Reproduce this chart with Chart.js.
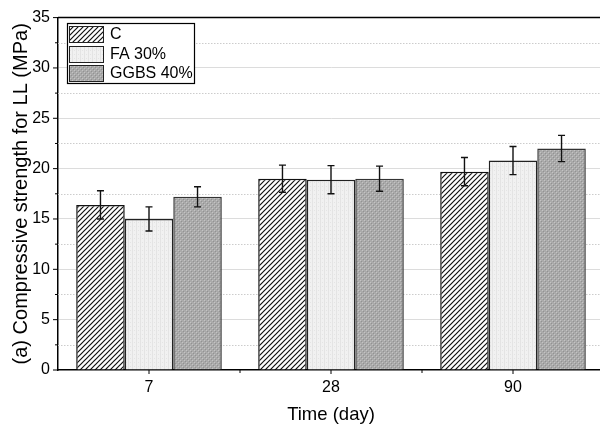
<!DOCTYPE html>
<html>
<head>
<meta charset="utf-8">
<script src="https://cdn.jsdelivr.net/npm/chart.js@4/dist/chart.umd.min.js"></script>
<style>
  html, body { margin: 0; padding: 0; background: #fff; overflow: hidden; }
  #wrap { width: 606px; height: 428px; position: relative; }
</style>
</head>
<body>
<div id="wrap"><canvas id="myChart"></canvas></div>
<script>
// 数据
var categories = ['7', '28', '90']
var seriesNames = ['C', 'FA 30%', 'GGBS 40%']
var valuesC = [16.4, 19.0, 19.7]
var valuesFA = [15.0, 18.9, 20.8]
var valuesGGBS = [17.2, 19.0, 22.0]
var errC = [1.4, 1.35, 1.4]
var errFA = [1.2, 1.4, 1.4]
var errGGBS = [1.0, 1.25, 1.3]
var yTicks = [0, 5, 10, 15, 20, 25, 30, 35]

var FONT = '"Liberation Sans", Arial, sans-serif'

/** 填充图案 */
function makePattern(size, draw) {
    var c = document.createElement('canvas')
    c.width = size
    c.height = size
    var g = c.getContext('2d')
    draw(g, size)
    return g.createPattern(c, 'repeat')
}
var hatch = makePattern(5, function (g, s) {
    g.fillStyle = '#fff'
    g.fillRect(0, 0, s, s)
    g.strokeStyle = '#111'
    g.lineWidth = 1.2
    g.beginPath()
    g.moveTo(-1, s + 1); g.lineTo(s + 1, -1)
    g.moveTo(-1, 1); g.lineTo(1, -1)
    g.moveTo(s - 1, s + 1); g.lineTo(s + 1, s - 1)
    g.stroke()
})
var lightDots = makePattern(4, function (g, s) {
    g.fillStyle = '#f1f1f1'
    g.fillRect(0, 0, s, s)
    g.fillStyle = '#e4e4e4'
    g.fillRect(0, 0, 1, 4)
    g.fillRect(2, 2, 1, 1)
})
var darkDots = makePattern(4, function (g, s) {
    g.fillStyle = '#aaaaaa'
    g.fillRect(0, 0, s, s)
    g.fillStyle = '#c4c4c4'
    g.fillRect(0, 0, 1, 1)
    g.fillRect(2, 2, 1, 1)
    g.fillStyle = '#929292'
    g.fillRect(1, 1, 1, 1)
    g.fillRect(3, 3, 1, 1)
})

var fills = [hatch, lightDots, darkDots]
var errs = [errC, errFA, errGGBS]

/** 网格、刻度、边框 */
var axisDecor = {
    id: 'axisDecor',
    beforeDatasetsDraw: function (chart) {
        var ctx = chart.ctx
        var a = chart.chartArea
        var y = chart.scales.y
        ctx.save()
        ctx.strokeStyle = '#cccccc'
        ctx.lineWidth = 1
        ctx.setLineDash([1.5, 1.5])
        for (var i = 0; i < yTicks.length - 1; i++) {
            var py = Math.round(y.getPixelForValue(yTicks[i] + 2.5)) + 0.5
            ctx.beginPath()
            ctx.moveTo(a.left, py)
            ctx.lineTo(a.right, py)
            ctx.stroke()
        }
        ctx.restore()
    },
    afterDraw: function (chart) {
        var ctx = chart.ctx
        var a = chart.chartArea
        var y = chart.scales.y
        var x = chart.scales.x
        ctx.save()
        ctx.strokeStyle = '#000'
        ctx.lineWidth = 1.5
        ctx.beginPath()
        ctx.moveTo(a.left, a.top)
        ctx.lineTo(a.right, a.top)
        ctx.stroke()
        ctx.lineWidth = 1
        ctx.beginPath()
        yTicks.forEach(function (v) {
            var py = y.getPixelForValue(v)
            ctx.moveTo(a.left - 5, py); ctx.lineTo(a.left, py)
            if (v < 35) {
                var pm = y.getPixelForValue(v + 2.5)
                ctx.moveTo(a.left - 3, pm); ctx.lineTo(a.left, pm)
            }
        })
        categories.forEach(function (c, i) {
            var px = x.getPixelForValue(i)
            ctx.moveTo(px, a.bottom); ctx.lineTo(px, a.bottom + 4)
            var half = (x.getPixelForValue(1) - x.getPixelForValue(0)) / 2
            ctx.moveTo(px + half, a.bottom); ctx.lineTo(px + half, a.bottom + 3)
        })
        ctx.stroke()
        ctx.restore()
    }
}

/** 误差线 */
var errorBars = {
    id: 'errorBars',
    afterDatasetsDraw: function (chart) {
        var ctx = chart.ctx
        var y = chart.scales.y
        ctx.save()
        ctx.strokeStyle = '#111'
        ctx.lineWidth = 1.4
        chart.data.datasets.forEach(function (ds, di) {
            var meta = chart.getDatasetMeta(di)
            meta.data.forEach(function (bar, i) {
                var v = ds.data[i]
                var e = errs[di][i]
                var top = y.getPixelForValue(v + e)
                var bot = y.getPixelForValue(v - e)
                ctx.beginPath()
                ctx.moveTo(bar.x, top); ctx.lineTo(bar.x, bot)
                ctx.moveTo(bar.x - 3.5, top); ctx.lineTo(bar.x + 3.5, top)
                ctx.moveTo(bar.x - 3.5, bot); ctx.lineTo(bar.x + 3.5, bot)
                ctx.stroke()
            })
        })
        ctx.restore()
    }
}

/** 图例 */
var boxLegend = {
    id: 'boxLegend',
    afterDraw: function (chart) {
        var ctx = chart.ctx
        ctx.save()
        ctx.fillStyle = '#fff'
        ctx.fillRect(67, 23, 127, 61)
        ctx.strokeStyle = '#000'
        ctx.lineWidth = 1.2
        ctx.strokeRect(67.5, 23.5, 127, 60)
        var rows = [26, 46, 65]
        ctx.font = '16px ' + FONT
        ctx.textBaseline = 'middle'
        chart.data.datasets.forEach(function (ds, i) {
            ctx.fillStyle = ds.backgroundColor
            ctx.fillRect(69, rows[i], 35, 16)
            ctx.strokeStyle = '#222'
            ctx.lineWidth = 1
            ctx.strokeRect(69.5, rows[i] + 0.5, 34, 16)
            ctx.fillStyle = '#000'
            ctx.fillText(ds.label, 110, rows[i] + 9)
        })
        ctx.restore()
    }
}

var ctx = document.getElementById('myChart').getContext('2d')
var myChart = new Chart(ctx, {
    type: 'bar',
    data: {
        labels: categories,
        datasets: [
            { label: seriesNames[0], data: valuesC, backgroundColor: fills[0], borderColor: '#111', borderWidth: 1.5 },
            { label: seriesNames[1], data: valuesFA, backgroundColor: fills[1], borderColor: '#222', borderWidth: 1.5 },
            { label: seriesNames[2], data: valuesGGBS, backgroundColor: fills[2], borderColor: '#333', borderWidth: 1.5 }
        ]
    },
    options: {
        responsive: true,
        maintainAspectRatio: false,
        animation: false,
        datasets: { bar: { categoryPercentage: 0.8, barPercentage: 1 } },
        layout: { padding: { top: 16, right: 2, left: 0, bottom: 0 } },
        plugins: { legend: { display: false }, tooltip: { enabled: false } },
        scales: {
            x: {
                grid: { display: false, drawTicks: false },
                border: { display: true, color: '#000', width: 1.5 },
                ticks: { color: '#000', padding: 8, maxRotation: 0, font: { family: FONT, size: 16 } },
                title: { display: true, text: 'Time (day)', color: '#000', padding: { top: 0, bottom: 2 }, font: { family: FONT, size: 18.5 } },
                afterFit: function (s) { s.height = 58 }
            },
            y: {
                min: 0,
                max: 35,
                grid: {
                    drawTicks: false,
                    color: function (c) {
                        var v = c.tick ? c.tick.value : 0
                        return (v > 0 && v < 35) ? '#dcdcdc' : 'rgba(0,0,0,0)'
                    },
                    lineWidth: 1
                },
                border: { display: true, color: '#000', width: 1.5 },
                ticks: { stepSize: 5, color: '#000', padding: 8, font: { family: FONT, size: 16 } },
                title: { display: true, text: '(a) Compressive strength for LL (MPa)', color: '#000', padding: { top: 9, bottom: 0 }, font: { family: FONT, size: 20 } },
                afterFit: function (s) { s.width = 58 }
            }
        }
    },
    plugins: [axisDecor, errorBars, boxLegend]
})
</script>
</body>
</html>
